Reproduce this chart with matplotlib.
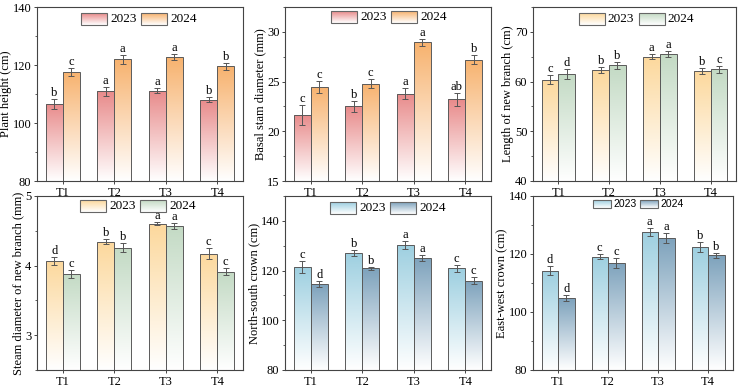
import matplotlib
matplotlib.use("Agg")
import matplotlib.pyplot as plt
import numpy as np
from matplotlib.colors import LinearSegmentedColormap
from matplotlib.patches import Rectangle
from matplotlib.ticker import MultipleLocator

plt.rcParams['font.family'] = ['Liberation Serif', 'DejaVu Serif']

groups = ['T1', 'T2', 'T3', 'T4']
years = ['2023', '2024']

height_23 = [106.6, 110.9, 111.2, 108.1]
height_24 = [117.6, 121.9, 122.7, 119.6]
height_23_err = [1.7, 1.6, 1.0, 0.7]
height_24_err = [1.3, 1.7, 1.0, 1.2]
height_let = [['b', 'a', 'a', 'b'], ['c', 'a', 'a', 'b']]

basal_23 = [21.64, 22.52, 23.79, 23.22]
basal_24 = [24.46, 24.80, 28.93, 27.21]
basal_23_err = [0.97, 0.54, 0.52, 0.67]
basal_24_err = [0.62, 0.44, 0.40, 0.47]
basal_let = [['c', 'b', 'a', 'ab'], ['c', 'c', 'a', 'b']]

length_23 = [60.4, 62.3, 65.0, 62.2]
length_24 = [61.5, 63.3, 65.5, 62.5]
length_23_err = [0.87, 0.55, 0.5, 0.6]
length_24_err = [1.0, 0.7, 0.55, 0.7]
length_let = [['c', 'b', 'a', 'b'], ['d', 'b', 'a', 'c']]

steam_23 = [4.07, 4.34, 4.60, 4.17]
steam_24 = [3.88, 4.26, 4.57, 3.91]
steam_23_err = [0.06, 0.035, 0.02, 0.08]
steam_24_err = [0.06, 0.06, 0.04, 0.05]
steam_let = [['d', 'b', 'a', 'c'], ['c', 'b', 'a', 'c']]

ns_23 = [121.6, 127.1, 130.4, 120.9]
ns_24 = [114.5, 120.9, 125.1, 116.0]
ns_23_err = [2.4, 1.3, 1.6, 1.5]
ns_24_err = [1.3, 0.7, 1.3, 1.3]
ns_let = [['c', 'b', 'a', 'c'], ['d', 'b', 'a', 'c']]

ew_23 = [114.3, 119.1, 127.6, 122.4]
ew_24 = [104.8, 116.9, 125.5, 119.5]
ew_23_err = [1.5, 0.9, 1.5, 1.7]
ew_24_err = [0.9, 1.7, 1.6, 0.9]
ew_let = [['d', 'c', 'a', 'b'], ['d', 'c', 'a', 'b']]

red, orange = '#e88a8a', '#f7b26e'
yellow, green = '#fcd89c', '#c3dac4'
lblue, sblue = '#9dcfe0', '#7da2bc'

W, H = 743, 387
fig = plt.figure(figsize=(W / 100, H / 100), dpi=100)


def px_axes(l, t, r, b):
    return fig.add_axes([l / W, 1 - b / H, (r - l) / W, (b - t) / H])


def gradient_fill(ax, patch, color, ymin):
    cmap = LinearSegmentedColormap.from_list('g', ['white', color])
    x0 = patch.get_x()
    w = patch.get_width()
    top = patch.get_y() + patch.get_height()
    grad = np.linspace(0, 1, 256).reshape(-1, 1)
    im = ax.imshow(grad, extent=[x0, x0 + w, ymin, top], origin='lower',
                   aspect='auto', cmap=cmap, zorder=1)
    im.set_clip_path(patch)


def legend(ax, colors, cx, cy, pw, ph, fs, fam, gap=3, tw=27):
    bb = ax.get_position()
    aw, ah = bb.width * W, bb.height * H
    total = 2 * (pw + gap + tw) + 4
    x = cx * aw - total / 2
    for c, lab in zip(colors, years):
        cmap = LinearSegmentedColormap.from_list('g', ['white', c])
        grad = np.linspace(0, 1, 64).reshape(-1, 1)
        ext = [x / aw, (x + pw) / aw, cy - ph / 2 / ah, cy + ph / 2 / ah]
        ax.imshow(grad, extent=ext, origin='lower', aspect='auto', cmap=cmap,
                  transform=ax.transAxes, zorder=5)
        ax.add_patch(Rectangle((ext[0], ext[2]), ext[1] - ext[0], ext[3] - ext[2],
                               transform=ax.transAxes, fill=False,
                               edgecolor='#666666', lw=0.8, zorder=6))
        ax.text((x + pw + gap) / aw, cy, lab, transform=ax.transAxes,
                fontsize=fs, family=fam, va='center', ha='left', zorder=6)
        x += pw + gap + tw + 4


def panel(ax, v23, v24, e23, e24, lets, colors, ylim, major, ylabel,
          leg_pos, leg_small=False):
    x = np.arange(1, 5)
    w = 0.33
    ymin = ylim[0]
    for vals, errs, col, off, let in zip([v23, v24], [e23, e24], colors,
                                         [-w / 2, w / 2], lets):
        bars = ax.bar(x + off, vals, w, facecolor='none', edgecolor='#5a5a5a',
                      lw=0.7, zorder=3)
        for p in bars:
            gradient_fill(ax, p, col, ymin)
        ax.errorbar(x + off, vals, yerr=errs, fmt='none', ecolor='#555555',
                    elinewidth=0.7, capsize=2.5, capthick=0.7, zorder=4)
        for xi, v, e, l in zip(x + off, vals, errs, let):
            ax.annotate(l, (xi, v + e), xytext=(0, 0), textcoords='offset points',
                        ha='center', va='bottom', fontsize=9)
    ax.set_xlim(0.5, 4.5)
    ax.set_ylim(*ylim)
    ax.set_xticks(x)
    ax.set_xticklabels(groups)
    ax.yaxis.set_major_locator(MultipleLocator(major))
    ax.yaxis.set_minor_locator(MultipleLocator(major / 2))
    ax.tick_params(axis='both', which='major', direction='out', length=2.5,
                   width=0.7, labelsize=9, pad=1.5, color='#444444')
    ax.tick_params(axis='y', which='minor', direction='out', length=1.5,
                   width=0.6, color='#444444')
    for s in ax.spines.values():
        s.set_color('#444444')
        s.set_linewidth(0.8)
    ax.set_ylabel(ylabel, fontsize=9, labelpad=0.5)
    if leg_small:
        legend(ax, colors, leg_pos[0], leg_pos[1], 18, 8, 7.5,
               ['Liberation Sans', 'DejaVu Sans'], gap=2, tw=23)
    else:
        legend(ax, colors, leg_pos[0], leg_pos[1], 26, 12, 9.5,
               ['Liberation Serif', 'DejaVu Serif'])


ax1 = px_axes(37, 7, 243, 181)
ax2 = px_axes(285, 7, 491, 181)
ax3 = px_axes(533, 7, 736, 181)
ax4 = px_axes(37, 196, 243, 370)
ax5 = px_axes(285, 196, 491, 370)
ax6 = px_axes(533, 196, 733, 370)

panel(ax1, height_23, height_24, height_23_err, height_24_err, height_let,
      (red, orange), (80, 140), 20, 'Plant height (cm)', (0.495, 0.93))
panel(ax2, basal_23, basal_24, basal_23_err, basal_24_err, basal_let,
      (red, orange), (15, 32.5), 5, 'Basal stam diameter (mm)', (0.505, 0.94))
panel(ax3, length_23, length_24, length_23_err, length_24_err, length_let,
      (yellow, green), (40, 75), 10, 'Length of new branch (cm)', (0.51, 0.93))
panel(ax4, steam_23, steam_24, steam_23_err, steam_24_err, steam_let,
      (yellow, green), (2.5, 5), 1, 'Steam diameter of new branch (mm)', (0.49, 0.945))
panel(ax5, ns_23, ns_24, ns_23_err, ns_24_err, ns_let,
      (lblue, sblue), (80, 150), 20, 'North-south crown (cm)', (0.50, 0.93))
panel(ax6, ew_23, ew_24, ew_23_err, ew_24_err, ew_let,
      (lblue, sblue), (80, 140), 20, 'East-west crown (cm)', (0.525, 0.955),
      leg_small=True)

fig.savefig('out.png', dpi=100)
